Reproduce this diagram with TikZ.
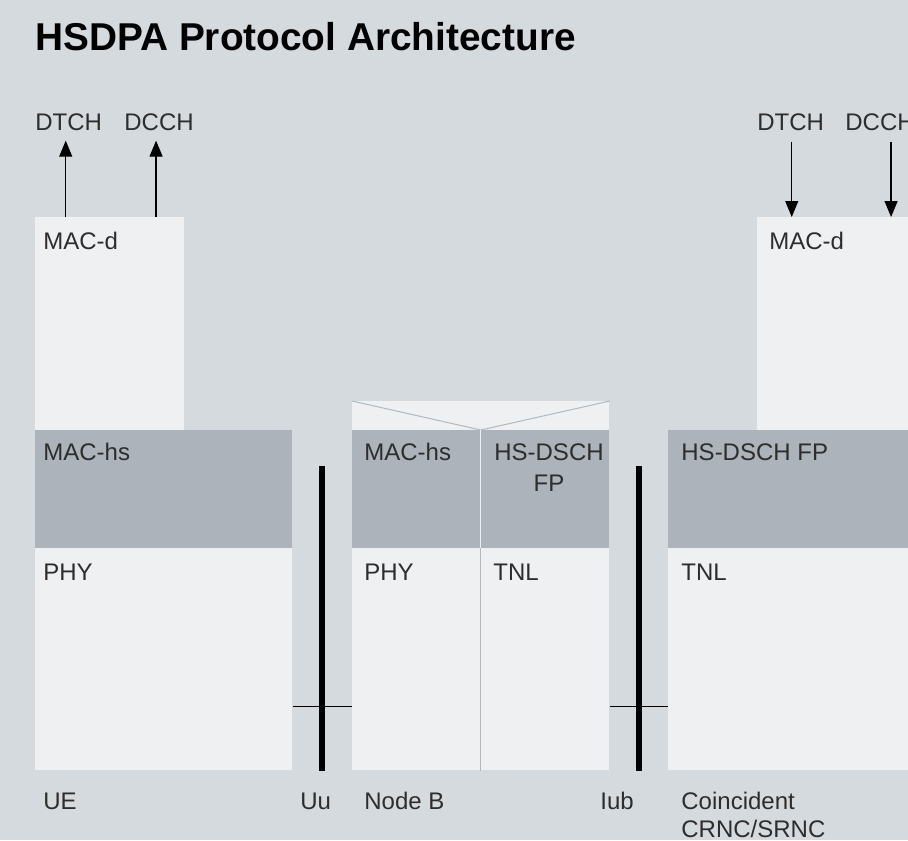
\documentclass[tikz,border=0pt]{standalone}
\usepackage{fontspec}
\setmainfont{Liberation Sans}
\usepackage{tikz}
\usetikzlibrary{arrows.meta,positioning}
\definecolor{hsbg}{RGB}{213,218,223}
\definecolor{hslight}{RGB}{238,240,242}
\definecolor{hsdark}{RGB}{172,179,187}
\definecolor{hsline}{RGB}{176,184,192}
\definecolor{hstext}{RGB}{45,45,45}
\tikzstyle{arrow} = [line width=0.6pt,-{Triangle[length=8pt,width=6.5pt]},color=black]
\tikzstyle{layer} = [rectangle, inner sep=0pt, anchor=north west, draw=none]
\tikzstyle{lbl} = [anchor=base west, inner sep=0pt, text=hstext, font=\fontsize{12}{15}\selectfont]
\tikzstyle{iface} = [line width=3pt, color=black]

\begin{document}
\begin{tikzpicture}[x=0.5pt,y=-0.5pt]
\clip (0,0) rectangle (908,840);
\fill[hsbg] (0,0) rectangle (908,840);

% Title
\node[anchor=base west, inner sep=0pt, font=\fontsize{19.4}{23}\selectfont\bfseries] (title) at (35,51) {HSDPA Protocol Architecture};

% UE stack
\node[layer, fill=hslight, minimum width=74.5pt, minimum height=106.5pt] (macdL) at (35,217) {};
\node[layer, fill=hsdark, minimum width=128.5pt, minimum height=59pt] (machsL) at (35,430) {};
\node[layer, fill=hslight, minimum width=128.5pt, minimum height=111pt] (phyL) at (35,548) {};
\node[lbl] (macdLt) at (43,249) {MAC-d};
\node[lbl] (machsLt) at (43,460) {MAC-hs};
\node[lbl] (phyLt) at (43,580) {PHY};

% Node B stack
\node[layer, fill=hslight, minimum width=128.5pt, minimum height=14.5pt] (nbTop) at (352,401) {};
\node[layer, fill=hsdark, minimum width=64pt, minimum height=59pt] (nbMac) at (352,430) {};
\node[layer, fill=hsdark, minimum width=64.5pt, minimum height=59pt] (nbFp) at (480,430) {};
\node[layer, fill=hslight, minimum width=64pt, minimum height=111pt] (nbPhy) at (352,548) {};
\node[layer, fill=hslight, minimum width=64.5pt, minimum height=111pt] (nbTnl) at (480,548) {};
\draw[hsline, line width=0.5pt] (nbTop.north west) -- (nbMac.north east) -- (nbTop.north east);
\draw[hslight, line width=0.6pt] (nbMac.north east) -- (nbMac.south east);
\draw[hsline, line width=0.6pt] (nbPhy.north east) -- (nbPhy.south east);
\node[lbl] (nbMact) at (364,460) {MAC-hs};
\node[lbl, anchor=base] (nbFpA) at (549,460) {HS-DSCH};
\node[lbl, anchor=base] (nbFpB) at (549,491) {FP};
\node[lbl] (nbPhyt) at (364,580) {PHY};
\node[lbl] (nbTnlt) at (493,580) {TNL};

% RNC stack
\node[layer, fill=hslight, minimum width=75.5pt, minimum height=106.5pt] (macdR) at (757,217) {};
\node[layer, fill=hsdark, minimum width=120pt, minimum height=59pt] (rncFp) at (668,430) {};
\node[layer, fill=hslight, minimum width=120pt, minimum height=111pt] (rncTnl) at (668,548) {};
\node[lbl] (macdRt) at (769,249) {MAC-d};
\node[lbl] (rncFpt) at (681,460) {HS-DSCH FP};
\node[lbl] (rncTnlt) at (681,580) {TNL};

% Interfaces
\coordinate (uu) at (322,466);
\coordinate (iub) at (639,466);
\draw[iface] (uu) -- (uu |- phyL.south);
\draw[iface] (iub) -- (iub |- phyL.south);
\draw[line width=0.5pt] (phyL.east |- 0,706) -- (nbPhy.west |- 0,706);
\draw[line width=0.5pt] (nbTnl.east |- 0,706) -- (rncTnl.west |- 0,706);

% Logical channels
\node[lbl] (dtchL) at (35,130) {DTCH};
\node[lbl] (dcchL) at (124,130) {DCCH};
\node[lbl] (dtchR) at (757,130) {DTCH};
\node[lbl] (dcchR) at (845,130) {DCCH};
\draw[arrow] ([xshift=-1.5pt]macdL.north -| dtchL) -- ([xshift=-1.5pt,yshift=-5pt]dtchL.south);
\draw[arrow] ([xshift=-1.5pt]macdL.north -| dcchL) -- ([xshift=-1.5pt,yshift=-5pt]dcchL.south);
\draw[arrow] ([xshift=0.5pt,yshift=-5.5pt]dtchR.south) -- ([xshift=0.5pt]macdR.north -| dtchR);
\draw[arrow] ([xshift=5.5pt,yshift=-5.5pt]dcchR.south) -- ([xshift=5.5pt]macdR.north -| dcchR);

% Bottom labels
\node[lbl] (ue) at (43,809) {UE};
\node[lbl] (uut) at (300,809) {Uu};
\node[lbl] (nodeb) at (364,809) {Node B};
\node[lbl] (iubt) at (600,809) {Iub};
\node[lbl] (rncA) at (681,809) {Coincident};
\node[lbl] (rncB) at (681,837) {CRNC/SRNC};
\end{tikzpicture}
\end{document}
